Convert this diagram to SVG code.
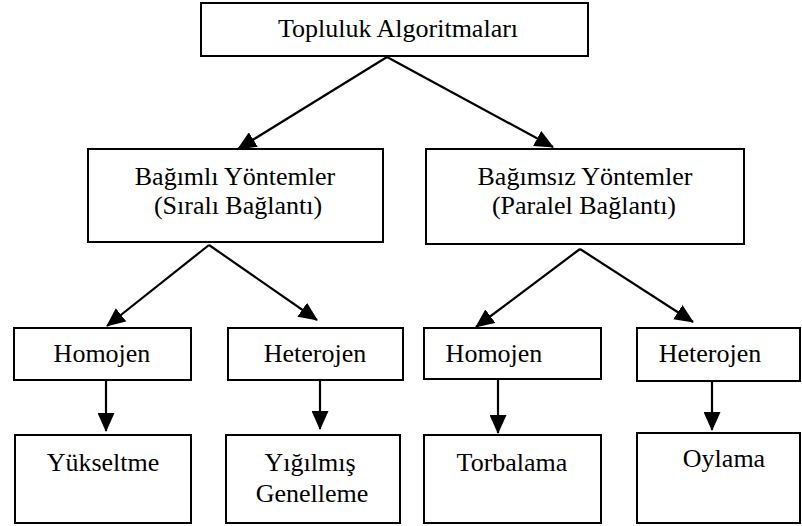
<svg xmlns="http://www.w3.org/2000/svg" width="802" height="526" viewBox="0 0 802 526">
  <style>
    .box { fill: #ffffff; stroke: #000000; stroke-width: 2; }
    .lbl { font-family: 'Liberation Serif', 'Times New Roman', serif; font-size: 26px; fill: #000000; text-anchor: middle; }
    .edge { stroke: #000000; stroke-width: 2.2; fill: none; marker-end: url(#arrow); }
  </style>
  <defs>
    <marker id="arrow" viewBox="0 0 19 17" refX="18" refY="8.5" markerWidth="19" markerHeight="17" markerUnits="userSpaceOnUse" orient="auto">
      <path d="M0,0 L19,8.5 L0,17 z" fill="#000000"/>
    </marker>
  </defs>
  <rect width="802" height="526" fill="#ffffff"/>

  <!-- connectors -->
  <g id="connectors">
    <line class="edge" x1="387" y1="57" x2="238" y2="149"/>
    <line class="edge" x1="387" y1="57" x2="553" y2="147"/>
    <line class="edge" x1="209" y1="245" x2="107" y2="326"/>
    <line class="edge" x1="209" y1="245" x2="317" y2="320"/>
    <line class="edge" x1="580" y1="249" x2="476" y2="327"/>
    <line class="edge" x1="580" y1="249" x2="693" y2="322"/>
    <line class="edge" x1="106" y1="379" x2="106" y2="431"/>
    <line class="edge" x1="320" y1="379" x2="320" y2="429"/>
    <line class="edge" x1="498" y1="380" x2="498" y2="433"/>
    <line class="edge" x1="712" y1="380" x2="712" y2="430"/>
  </g>

  <!-- nodes -->
  <g id="topluluk">
    <rect class="box" x="201" y="3" width="387" height="53"/>
    <text class="lbl" x="398" y="37">Topluluk Algoritmaları</text>
  </g>
  <g id="bagimli">
    <rect class="box" x="88" y="149" width="295" height="93"/>
    <text class="lbl" x="235" y="185">Bağımlı Yöntemler</text>
    <text class="lbl" x="238" y="214">(Sıralı Bağlantı)</text>
  </g>
  <g id="bagimsiz">
    <rect class="box" x="426" y="149" width="318" height="95"/>
    <text class="lbl" x="585" y="185">Bağımsız Yöntemler</text>
    <text class="lbl" x="584" y="214">(Paralel Bağlantı)</text>
  </g>
  <g id="homojen-1">
    <rect class="box" x="14" y="328" width="177" height="52"/>
    <text class="lbl" x="102" y="362">Homojen</text>
  </g>
  <g id="heterojen-1">
    <rect class="box" x="228" y="328" width="175" height="52"/>
    <text class="lbl" x="315" y="362">Heterojen</text>
  </g>
  <g id="homojen-2">
    <rect class="box" x="424" y="328" width="177" height="51"/>
    <text class="lbl" x="494" y="362">Homojen</text>
  </g>
  <g id="heterojen-2">
    <rect class="box" x="637" y="328" width="163" height="53"/>
    <text class="lbl" x="710" y="362">Heterojen</text>
  </g>
  <g id="yukseltme">
    <rect class="box" x="15" y="435" width="176" height="88"/>
    <text class="lbl" x="103" y="471">Yükseltme</text>
  </g>
  <g id="yigilmis">
    <rect class="box" x="226" y="435" width="174" height="88"/>
    <text class="lbl" x="310" y="471">Yığılmış</text>
    <text class="lbl" x="312" y="502">Genelleme</text>
  </g>
  <g id="torbalama">
    <rect class="box" x="424" y="435" width="177" height="88"/>
    <text class="lbl" x="512" y="471">Torbalama</text>
  </g>
  <g id="oylama">
    <rect class="box" x="637" y="433" width="163" height="90"/>
    <text class="lbl" x="724" y="467">Oylama</text>
  </g>
</svg>
